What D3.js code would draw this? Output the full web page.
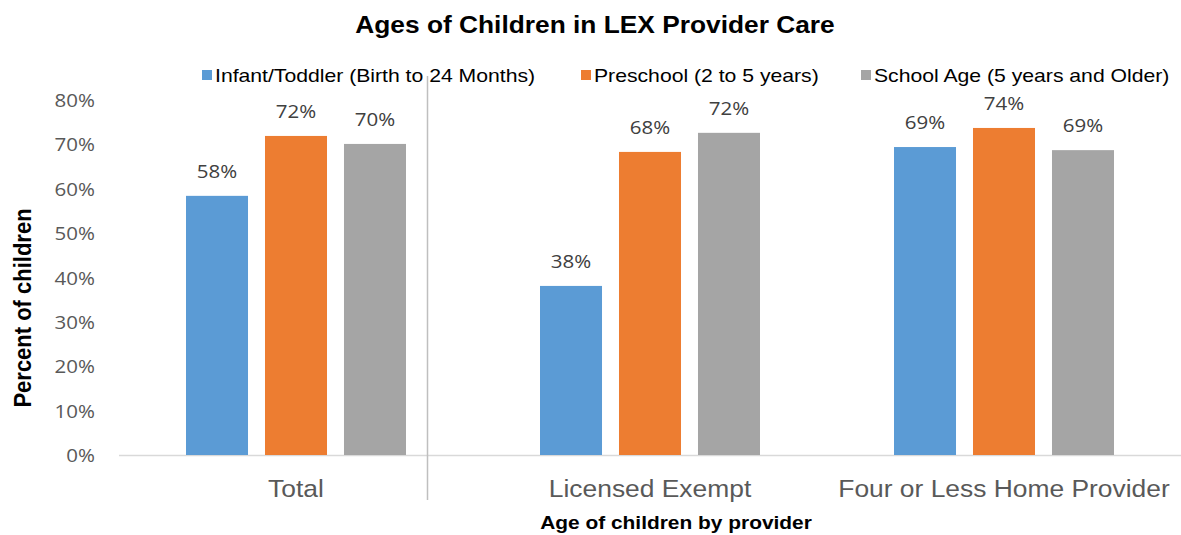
<!DOCTYPE html>
<html>
<head>
<meta charset="utf-8">
<script src="https://cdn.jsdelivr.net/npm/d3@7"></script>
<style>
  body { margin: 0; background: #fff; }
  svg { display: block; }
</style>
</head>
<body>
<div id="chart"></div>
<script>
var categories = ["Total", "Licensed Exempt", "Four or Less Home Provider"];
var seriesNames = ["Infant/Toddler (Birth to 24 Months)", "Preschool (2 to 5 years)", "School Age (5 years and Older)"];
var infant = [58.4, 38.1, 69.4];
var preschool = [71.9, 68.3, 73.7];
var schoolAge = [70.1, 72.6, 68.7];
var labels = [["58%", "38%", "69%"], ["72%", "68%", "74%"], ["70%", "72%", "69%"]];
var yTicks = [0, 10, 20, 30, 40, 50, 60, 70, 80];
var colors = ["#5b9bd5", "#ed7d31", "#a5a5a5"];

var width = 1181, height = 535;
var margin = {top: 100, right: 0, bottom: 80, left: 119};
var sans = "Liberation Sans, Arial, sans-serif";
var labelFont = "Open Sans, sans-serif";

var svg = d3.select("#chart").append("svg")
    .attr("width", width).attr("height", height);

var x = d3.scaleBand().domain(categories).range([margin.left, width]);
var xs = d3.scaleBand().domain([0, 1, 2]).range([-110, 110]).paddingInner(0.215);
var y = d3.scaleLinear().domain([0, 80]).range([455, 100]);

var allSeries = [infant, preschool, schoolAge];

// text in the source picture is a bit wide, so stretch it sideways
function addText(parent, px, py, sx, str) {
  return parent.append("text")
      .attr("transform", "translate(" + px + "," + py + ") scale(" + sx + ",1)")
      .text(str);
}

// title
addText(svg, 595, 33, 1.12, "Ages of Children in LEX Provider Care")
    .attr("text-anchor", "middle")
    .style("font-family", sans)
    .style("font-weight", "bold").style("font-size", "23.5px");

// y tick labels
yTicks.forEach(function(t){
  addText(svg, 95, y(t) + 7, 1.08, t + "%")
      .attr("text-anchor", "end")
      .style("font-family", labelFont)
      .style("font-size", "19px").style("fill", "#595959");
});

// baseline
svg.append("line")
    .attr("x1", margin.left).attr("x2", width)
    .attr("y1", y(0) + 0.5).attr("y2", y(0) + 0.5)
    .style("stroke", "#d9d9d9").style("stroke-width", 1.5);

// separator line
svg.append("line")
    .attr("x1", 427.5).attr("x2", 427.5)
    .attr("y1", 76).attr("y2", 500)
    .style("stroke", "#bfbfbf").style("stroke-width", 1.5);

// bars
allSeries.forEach(function(vals, si){
  var g = svg.append("g");
  g.selectAll("rect").data(vals).enter().append("rect")
      .attr("x", function(d, i){ return x(categories[i]) + x.bandwidth() / 2 + xs(si); })
      .attr("width", xs.bandwidth())
      .attr("y", function(d){ return y(d); })
      .attr("height", function(d){ return y(0) - y(d); })
      .style("fill", colors[si]);
  vals.forEach(function(d, i){
    var cx = x(categories[i]) + x.bandwidth() / 2 + xs(si) + xs.bandwidth() / 2;
    addText(g, cx, y(d) - 18, 1.08, labels[si][i])
        .attr("text-anchor", "middle")
        .style("font-family", labelFont)
        .style("font-size", "19px").style("fill", "#404040");
  });
});

// category labels
categories.forEach(function(c){
  addText(svg, x(c) + x.bandwidth() / 2, 497, 1.1, c)
      .attr("text-anchor", "middle")
      .style("font-family", sans)
      .style("font-size", "24px").style("fill", "#595959");
});

// axis titles
addText(svg, 676, 529, 1.1, "Age of children by provider")
    .attr("text-anchor", "middle")
    .style("font-family", sans)
    .style("font-weight", "bold").style("font-size", "19px");

svg.append("text")
    .attr("transform", "translate(31,308) scale(1.1,1) rotate(-90)")
    .attr("text-anchor", "middle")
    .style("font-family", sans)
    .style("font-weight", "bold").style("font-size", "22px")
    .text("Percent of children");

// legend
var legendX = [202, 581, 861];
seriesNames.forEach(function(name, i){
  var g = svg.append("g").attr("transform", "translate(" + legendX[i] + ",75)");
  g.append("rect")
      .attr("x", 0).attr("y", -5).attr("width", 10).attr("height", 10)
      .style("fill", colors[i]);
  addText(g, 13, 6.5, 1.145, name)
      .style("font-family", sans)
      .style("font-size", "18.5px").style("fill", "#000");
});
</script>
</body>
</html>
